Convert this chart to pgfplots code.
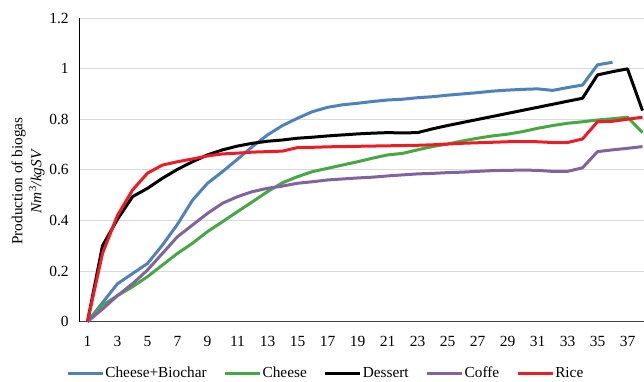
\documentclass[border=0pt]{standalone}
\usepackage{pgfplots}
\pgfplotsset{compat=1.18}
\usepackage{pgfplotstable}
\usepackage{fontspec}
\setmainfont{Liberation Serif}
\definecolor{cbBlue}{HTML}{4F81BD}
\definecolor{chGreen}{HTML}{45A843}
\definecolor{coPurple}{HTML}{8064A2}
\definecolor{riRed}{HTML}{ED1C24}
\definecolor{gridc}{HTML}{D9D9D9}
\pgfplotstableread{
d cb ch de co ri
1 0 0 0 0 0
2 0.075 0.065 0.30 0.05 0.27
3 0.15 0.103 0.405 0.103 0.42
4 0.19 0.138 0.494 0.15 0.52
5 0.23 0.178 0.527 0.204 0.587
6 0.303 0.224 0.567 0.27 0.619
7 0.385 0.27 0.602 0.336 0.632
8 0.48 0.31 0.632 0.382 0.643
9 0.547 0.356 0.659 0.428 0.655
10 0.593 0.395 0.679 0.468 0.663
11 0.642 0.435 0.694 0.494 0.666
12 0.692 0.474 0.705 0.514 0.67
13 0.738 0.514 0.713 0.527 0.672
14 0.775 0.549 0.718 0.536 0.674
15 0.804 0.573 0.725 0.547 0.688
16 0.83 0.593 0.729 0.553 0.689
17 0.847 0.606 0.734 0.56 0.691
18 0.857 0.619 0.738 0.564 0.692
19 0.863 0.632 0.742 0.568 0.693
20 0.87 0.646 0.745 0.571 0.694
21 0.876 0.659 0.747 0.576 0.695
22 0.879 0.665 0.746 0.58 0.696
23 0.885 0.679 0.747 0.584 0.697
24 0.889 0.692 0.762 0.586 0.699
25 0.895 0.702 0.775 0.589 0.702
26 0.9 0.714 0.787 0.591 0.705
27 0.905 0.725 0.799 0.594 0.707
28 0.911 0.734 0.811 0.597 0.709
29 0.915 0.741 0.823 0.598 0.711
30 0.918 0.751 0.835 0.599 0.712
31 0.92 0.764 0.847 0.598 0.711
32 0.914 0.775 0.859 0.594 0.708
33 0.925 0.784 0.871 0.594 0.708
34 0.935 0.79 0.883 0.608 0.722
35 1.015 0.797 0.975 0.672 0.79
36 1.025 0.802 0.988 0.679 0.792
37 nan 0.808 0.999 0.685 0.8
38 nan 0.747 0.834 0.692 0.808
}\datatable
\begin{document}
\fontsize{15.3bp}{18bp}\selectfont
\begin{tikzpicture}
\begin{axis}[
  name=ax,
  at={(0,0)}, anchor=south west,
  scale only axis,
  width=564bp, height=303.7bp,
  xmin=0.5, xmax=38.1,
  ymin=0, ymax=1.2,
  xtick={1,3,...,37},
  ytick={0,0.2,...,1.2},
  yticklabel style={/pgf/number format/fixed, /pgf/number format/precision=1},
  /pgf/number format/assume math mode=true,
  major tick length=0pt,
  axis x line*=bottom,
  axis y line*=left,
  x axis line style={draw=black!75, line width=1bp, -},
  y axis line style={draw=black, line width=1bp, -},
  ymajorgrids,
  grid style={draw=gridc, line width=0.8bp},
  tick label style={font=\fontsize{15.5bp}{18bp}\selectfont, text=black},
  xticklabel style={yshift=-9bp},
  yticklabel style={xshift=-6bp},
  legend columns=5,
  legend style={draw=none, fill=none, at={(0.435,-0.17)}, anchor=center,
    font=\fontsize{15.3bp}{18bp}\selectfont,
    /tikz/every even column/.append style={column sep=16bp},
    nodes={inner sep=1bp}},
  legend image code/.code={\draw[#1] (0bp,0bp) -- (35bp,0bp);},
  every axis plot/.append style={line width=3bp, line join=round},
  clip=false,
]
\addplot[cbBlue] table[x=d, y=cb] {\datatable};
\addlegendentry{Cheese+Biochar}
\addplot[chGreen] table[x=d, y=ch] {\datatable};
\addlegendentry{Cheese}
\addplot[black] table[x=d, y=de] {\datatable};
\addlegendentry{Dessert}
\addplot[coPurple] table[x=d, y=co] {\datatable};
\addlegendentry{Coffe}
\addplot[riRed] table[x=d, y=ri] {\datatable};
\addlegendentry{Rice}
\node[align=center, rotate=90, anchor=center, font=\fontsize{15.3bp}{19bp}\selectfont]
  at (axis description cs:-0.092,0.463) {Production of biogas\\\textit{Nm}\textsuperscript{3}\textit{/kgSV}};
\end{axis}
\pgfresetboundingbox
\path (ax.south west) ++(-80bp,-60.3bp) rectangle ++(644bp,382bp);
\end{tikzpicture}
\end{document}
